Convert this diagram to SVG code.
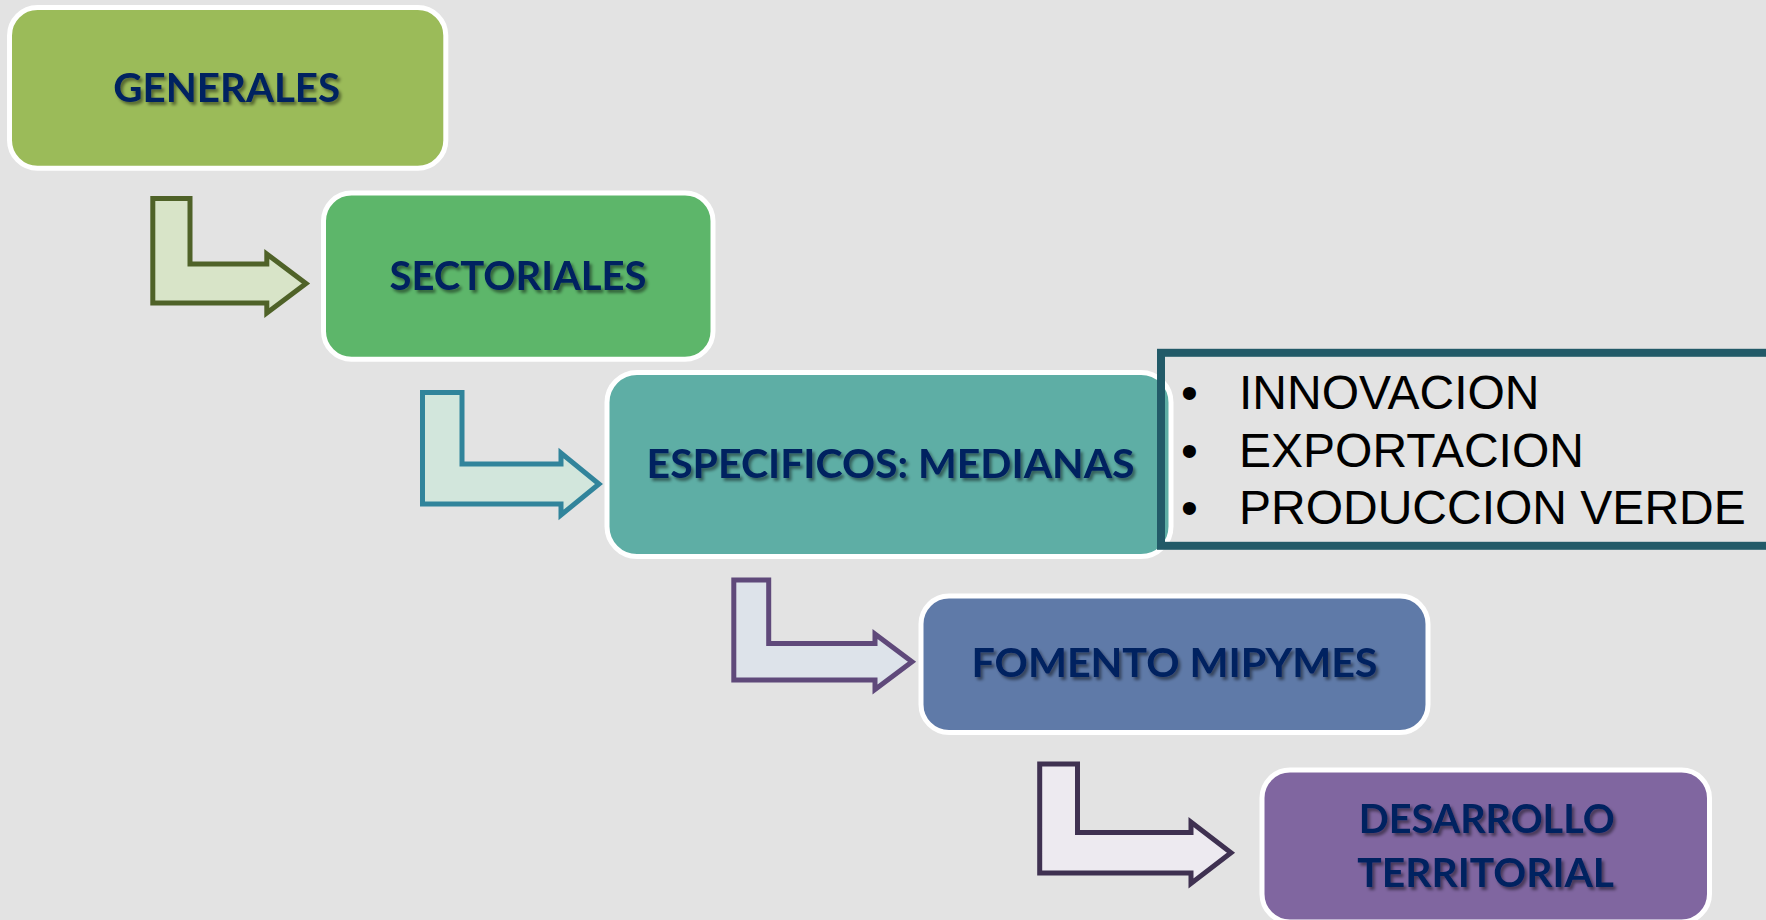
<svg xmlns="http://www.w3.org/2000/svg" width="1766" height="920" viewBox="0 0 1766 920">
<defs>
<filter id="tshadow" x="-10%" y="-30%" width="120%" height="160%">
<feDropShadow dx="2.5" dy="3" stdDeviation="1.6" flood-color="#000000" flood-opacity="0.45"/>
</filter>
</defs>
<style>
.box{stroke:#ffffff;stroke-width:5}
.lbl{font-family:Lato,"Open Sans","Liberation Sans",sans-serif;font-weight:bold;font-size:41px;fill:#002060;text-anchor:middle;filter:url(#tshadow)}
.arr{stroke-width:5;stroke-linejoin:miter}
.bul{font-family:"Liberation Sans",Arial,sans-serif;font-size:48px;fill:#000000}
</style>
<rect x="0" y="0" width="1766" height="920" fill="#e3e3e3"/>

<g id="connectors">
<path class="arr" d="M152.8,198.5 H190 V264 H266.8 V254 L306,283.5 L266.8,313 V303 H152.8 Z" fill="#d8e4c8" stroke="#4f6228"/>
<path class="arr" d="M422.5,392.5 H462 V464 H561 V453 L599,484 L561,515 V504 H422.5 Z" fill="#d2e6dc" stroke="#31849b"/>
<path class="arr" d="M733.8,580 H768.7 V643.5 H875 V634 L912,661.75 L875,689.5 V680 H733.8 Z" fill="#dde3ea" stroke="#5f497a"/>
<path class="arr" d="M1039.7,764 H1077.5 V832.5 H1191 V822 L1231,852.75 L1191,883.5 V873 H1039.7 Z" fill="#edeaf0" stroke="#3f3151"/>
</g>

<g id="generales">
<rect class="box" x="9.5" y="7.5" width="436.3" height="160.7" rx="28" fill="#9bbb59"/>
<text class="lbl" x="226.7" y="101.7" textLength="227" lengthAdjust="spacingAndGlyphs">GENERALES</text>
</g>

<g id="sectoriales">
<rect class="box" x="323.5" y="193" width="389.5" height="166.2" rx="28" fill="#5db66a"/>
<text class="lbl" x="518" y="290" textLength="257" lengthAdjust="spacingAndGlyphs">SECTORIALES</text>
</g>

<g id="especificos">
<rect class="box" x="607" y="372.5" width="564" height="184" rx="30" fill="#5eaea5"/>
<text class="lbl" x="890.6" y="478.3" textLength="488" lengthAdjust="spacingAndGlyphs">ESPECIFICOS: MEDIANAS</text>
</g>

<g id="lista">
<rect x="1161" y="352.8" width="640" height="193" fill="none" stroke="#225a68" stroke-width="8"/>
<text class="bul" x="1181" y="409">•</text>
<text class="bul" x="1239" y="409">INNOVACION</text>
<text class="bul" x="1181" y="466.5">•</text>
<text class="bul" x="1239" y="466.5">EXPORTACION</text>
<text class="bul" x="1181" y="524">•</text>
<text class="bul" x="1239" y="524">PRODUCCION VERDE</text>
</g>

<g id="fomento">
<rect class="box" x="921" y="596" width="507" height="136.5" rx="28" fill="#5f7aa8"/>
<text class="lbl" x="1174.5" y="676.7" textLength="406" lengthAdjust="spacingAndGlyphs">FOMENTO MIPYMES</text>
</g>

<g id="desarrollo">
<rect class="box" x="1262" y="770" width="447.5" height="152" rx="28" fill="#8066a0"/>
<text class="lbl" x="1486.7" y="833.3" textLength="256" lengthAdjust="spacingAndGlyphs">DESARROLLO</text>
<text class="lbl" x="1485.7" y="886.5" textLength="256.7" lengthAdjust="spacingAndGlyphs">TERRITORIAL</text>
</g>
</svg>
